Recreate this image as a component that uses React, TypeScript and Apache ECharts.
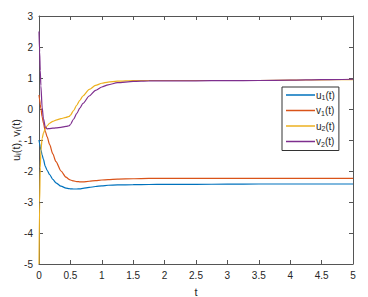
import React, { useEffect, useRef } from "react";
import * as echarts from "echarts";

const tValues = [0, 0.01, 0.02, 0.03, 0.05, 0.07, 0.1, 0.13, 0.17, 0.22, 0.27, 0.35, 0.43, 0.48, 0.5, 0.55, 0.6, 0.65, 0.7, 0.8, 0.9, 1.0, 1.1, 1.25, 1.5, 1.75, 2, 2.5, 3, 3.5, 4, 4.5, 5];
const u1 = [-1.0, -1.12, -1.22, -1.32, -1.48, -1.62, -1.85, -1.98, -2.12, -2.27, -2.38, -2.49, -2.55, -2.57, -2.575, -2.58, -2.58, -2.575, -2.56, -2.53, -2.5, -2.48, -2.46, -2.45, -2.44, -2.435, -2.43, -2.43, -2.425, -2.42, -2.42, -2.42, -2.42];
const v1 = [0.45, 0.3, 0.15, 0.02, -0.25, -0.45, -0.72, -0.9, -1.15, -1.45, -1.7, -2.0, -2.2, -2.27, -2.29, -2.32, -2.34, -2.35, -2.35, -2.33, -2.31, -2.29, -2.28, -2.26, -2.25, -2.24, -2.24, -2.235, -2.235, -2.235, -2.235, -2.235, -2.235];
const u2 = [-5, -3.0, -1.9, -1.35, -0.95, -0.78, -0.64, -0.54, -0.46, -0.4, -0.36, -0.31, -0.27, -0.24, -0.2, -0.05, 0.12, 0.28, 0.42, 0.63, 0.76, 0.83, 0.87, 0.9, 0.92, 0.92, 0.92, 0.92, 0.92, 0.92, 0.93, 0.94, 0.95];
const v2 = [2.5, 1.85, 1.25, 0.75, 0.05, -0.3, -0.58, -0.64, -0.63, -0.62, -0.61, -0.59, -0.56, -0.54, -0.5, -0.33, -0.15, 0.03, 0.18, 0.42, 0.6, 0.71, 0.78, 0.85, 0.89, 0.905, 0.91, 0.91, 0.915, 0.92, 0.93, 0.945, 0.96];

const seriesNames = ["u1", "v1", "u2", "v2"];
const seriesValues = [u1, v1, u2, v2];
const seriesColors = ["#0072BD", "#D95319", "#EDB120", "#7E2F8E"];
const legendLabels: Record<string, string> = {
  u1: "{a|u}{s|1}{a|(t)}",
  v1: "{a|v}{s|1}{a|(t)}",
  u2: "{a|u}{s|2}{a|(t)}",
  v2: "{a|v}{s|2}{a|(t)}",
};

const FONT = "Liberation Sans, Arial, sans-serif";
const AXIS = "#555555";
const TEXT = "#262626";

export default function App() {
  const ref = useRef<HTMLDivElement>(null);
  useEffect(() => {
    if (!ref.current) return;
    const chart = echarts.init(ref.current, undefined, { renderer: "svg" });
    const axisCommon = {
      axisLine: { show: true, onZero: false, lineStyle: { color: AXIS, width: 1 } },
      axisTick: { show: true, inside: true, length: 4, lineStyle: { color: AXIS } },
      splitLine: { show: false },
    };
    chart.setOption({
      animation: false,
      backgroundColor: "#ffffff",
      grid: { left: 39, right: 15, top: 16, bottom: 33, containLabel: false, outerBoundsMode: "none" },
      legend: {
        orient: "vertical",
        left: 282,
        top: 87,
        width: 56,
        padding: [3, 4, 3, 4],
        itemGap: 4.5,
        itemWidth: 29,
        itemHeight: 1.5,
        icon: "rect",
        borderColor: "#333",
        borderWidth: 1,
        backgroundColor: "#ffffff",
        data: seriesNames,
        formatter: (name: string) => legendLabels[name],
        textStyle: {
          fontFamily: FONT,
          fontSize: 10,
          color: TEXT,
          padding: [0, 0, 0, -4],
          rich: {
            a: { fontFamily: FONT, fontSize: 10, color: TEXT, lineHeight: 12 },
            s: { fontFamily: FONT, fontSize: 7, color: TEXT, lineHeight: 4, verticalAlign: "bottom" },
          },
        },
      },
      xAxis: [
        {
          type: "value",
          min: 0,
          max: 5,
          interval: 0.5,
          name: "t",
          nameLocation: "middle",
          nameGap: 22,
          nameMoveOverlap: false,
          nameTextStyle: { fontFamily: FONT, fontSize: 11, color: TEXT },
          axisLabel: { fontFamily: FONT, fontSize: 10, color: TEXT, margin: 6 },
          ...axisCommon,
        },
        {
          type: "value",
          position: "top",
          min: 0,
          max: 5,
          interval: 0.5,
          axisLabel: { show: false },
          ...axisCommon,
        },
      ],
      yAxis: [
        {
          type: "value",
          min: -5,
          max: 3,
          interval: 1,
          name: "{a|u}{s|i}{a|(t), v}{s|i}{a|(t)}",
          nameLocation: "middle",
          nameRotate: 90,
          nameGap: 17,
          nameMoveOverlap: false,
          nameTextStyle: {
            fontFamily: FONT,
            fontSize: 11,
            color: TEXT,
            rich: {
              a: { fontFamily: FONT, fontSize: 11, color: TEXT, lineHeight: 13 },
              s: { fontFamily: FONT, fontSize: 8, color: TEXT, lineHeight: 4, verticalAlign: "bottom" },
            },
          },
          axisLabel: { fontFamily: FONT, fontSize: 10, color: TEXT, margin: 6 },
          ...axisCommon,
        },
        {
          type: "value",
          position: "right",
          min: -5,
          max: 3,
          interval: 1,
          axisLabel: { show: false },
          ...axisCommon,
        },
      ],
      series: seriesNames.map((name, i) => ({
        name,
        type: "line",
        xAxisIndex: 0,
        yAxisIndex: 0,
        symbol: "none",
        smooth: 0.25,
        smoothMonotone: "x",
        lineStyle: { color: seriesColors[i], width: 1.2 },
        itemStyle: { color: seriesColors[i] },
        data: tValues.map((t, j) => [t, seriesValues[i][j]]),
      })),
    });
    return () => chart.dispose();
  }, []);
  return <div ref={ref} style={{ position: "fixed", left: 0, top: 0, width: 368, height: 297 }} />;
}
